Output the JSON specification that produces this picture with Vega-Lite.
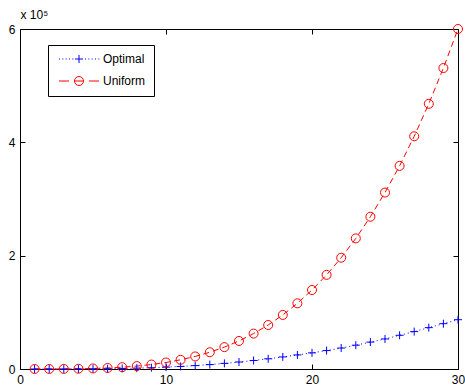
{
  "$schema": "https://vega.github.io/schema/vega-lite/v6.json",
  "width": 438,
  "height": 340,
  "autosize": {"type": "none"},
  "padding": {"left": 20, "top": 29, "right": 7, "bottom": 22},
  "background": "white",
  "config": {
    "font": "Liberation Sans",
    "view": {"stroke": "black", "strokeWidth": 1},
    "axis": {"grid": false, "domainColor": "black", "tickColor": "black", "labelColor": "black", "labelFontSize": 12, "titleColor": "black", "labelFont": "Liberation Sans", "titleFont": "Liberation Sans"}
  },
  "data": {"values": [
    {"x":1,"series":"Optimal","y":1},{"x":2,"series":"Optimal","y":10},{"x":3,"series":"Optimal","y":40},{"x":4,"series":"Optimal","y":120},{"x":5,"series":"Optimal","y":280},
    {"x":6,"series":"Optimal","y":550},{"x":7,"series":"Optimal","y":950},{"x":8,"series":"Optimal","y":1500},{"x":9,"series":"Optimal","y":2300},{"x":10,"series":"Optimal","y":3300},
    {"x":11,"series":"Optimal","y":4500},{"x":12,"series":"Optimal","y":6000},{"x":13,"series":"Optimal","y":7800},{"x":14,"series":"Optimal","y":9900},{"x":15,"series":"Optimal","y":12300},
    {"x":16,"series":"Optimal","y":15000},{"x":17,"series":"Optimal","y":18000},{"x":18,"series":"Optimal","y":21300},{"x":19,"series":"Optimal","y":24800},{"x":20,"series":"Optimal","y":28500},
    {"x":21,"series":"Optimal","y":32500},{"x":22,"series":"Optimal","y":37000},{"x":23,"series":"Optimal","y":42000},{"x":24,"series":"Optimal","y":47500},{"x":25,"series":"Optimal","y":53000},
    {"x":26,"series":"Optimal","y":59500},{"x":27,"series":"Optimal","y":66000},{"x":28,"series":"Optimal","y":73000},{"x":29,"series":"Optimal","y":80000},{"x":30,"series":"Optimal","y":87000},
    {"x":1,"series":"Uniform","y":3},{"x":2,"series":"Uniform","y":35},{"x":3,"series":"Uniform","y":151},{"x":4,"series":"Uniform","y":424},{"x":5,"series":"Uniform","y":948},
    {"x":6,"series":"Uniform","y":1824},{"x":7,"series":"Uniform","y":3185},{"x":8,"series":"Uniform","y":5149},{"x":9,"series":"Uniform","y":7867},{"x":10,"series":"Uniform","y":11496},
    {"x":11,"series":"Uniform","y":16224},{"x":12,"series":"Uniform","y":22158},{"x":13,"series":"Uniform","y":29574},{"x":14,"series":"Uniform","y":38592},{"x":15,"series":"Uniform","y":49494},
    {"x":16,"series":"Uniform","y":62460},{"x":17,"series":"Uniform","y":77640},{"x":18,"series":"Uniform","y":95400},{"x":19,"series":"Uniform","y":115900},{"x":20,"series":"Uniform","y":139400},
    {"x":21,"series":"Uniform","y":166100},{"x":22,"series":"Uniform","y":196400},{"x":23,"series":"Uniform","y":230500},{"x":24,"series":"Uniform","y":268700},{"x":25,"series":"Uniform","y":311400},
    {"x":26,"series":"Uniform","y":358400},{"x":27,"series":"Uniform","y":410600},{"x":28,"series":"Uniform","y":468000},{"x":29,"series":"Uniform","y":531100},{"x":30,"series":"Uniform","y":600000}
  ]},
  "resolve": {
    "axis": {"x": "independent", "y": "independent"},
    "scale": {"color": "independent", "shape": "independent", "size": "independent"},
    "legend": {"color": "independent", "shape": "independent", "size": "independent"}
  },
  "layer": [
    {
      "transform": [{"filter": "datum.series === 'Optimal'"}],
      "mark": {"type": "line", "strokeWidth": 1, "clip": false, "color": "#0000ff", "strokeDash": [1, 3]},
      "encoding": {
        "x": {"field": "x", "type": "quantitative", "scale": {"domain": [0, 30], "nice": false},
              "axis": {"values": [0, 10, 20, 30], "tickSize": -5, "labelPadding": 10, "title": null, "labelFlush": false}},
        "y": {"field": "y", "type": "quantitative", "scale": {"domain": [0, 600000], "nice": false},
              "axis": {"values": [0, 200000, 400000, 600000], "labelExpr": "format(datum.value/100000, 'd')", "tickSize": -5, "labelPadding": 10,
                       "title": "x 10⁵", "titleAngle": 0, "titleAlign": "left", "titleBaseline": "alphabetic", "titleX": 0, "titleY": -11, "titleFontWeight": "normal", "titleFontSize": 12}}
      }
    },
    {
      "transform": [{"filter": "datum.series === 'Uniform'"}],
      "mark": {"type": "line", "strokeWidth": 1, "clip": false, "color": "#ff0000", "strokeDash": [6, 4]},
      "encoding": {
        "x": {"field": "x", "type": "quantitative", "axis": null},
        "y": {"field": "y", "type": "quantitative", "axis": null}
      }
    },
    {
      "mark": {"type": "point", "filled": false, "strokeWidth": 1, "opacity": 1, "clip": false},
      "encoding": {
        "x": {"field": "x", "type": "quantitative", "axis": {"orient": "top", "values": [0, 10, 20, 30], "labels": false, "tickSize": -5, "title": null, "domain": false}},
        "y": {"field": "y", "type": "quantitative", "axis": {"orient": "right", "values": [0, 200000, 400000, 600000], "labels": false, "tickSize": -5, "title": null, "domain": false}},
        "shape": {"field": "series", "type": "nominal", "scale": {"domain": ["Optimal", "Uniform"], "range": ["M-1,0H1M0,-1V1", "circle"]}, "legend": null},
        "size": {"field": "series", "type": "nominal", "scale": {"domain": ["Optimal", "Uniform"], "range": [64, 81]}, "legend": null},
        "color": {"field": "series", "type": "nominal", "scale": {"domain": ["Optimal", "Uniform"], "range": ["#0000ff", "#ff0000"]}, "legend": null}
      }
    },
    {
      "transform": [{"filter": "false"}],
      "mark": {"type": "point", "filled": false, "strokeWidth": 1, "opacity": 1, "clip": false},
      "encoding": {
        "x": {"field": "x", "type": "quantitative", "axis": null},
        "y": {"field": "y", "type": "quantitative", "axis": null},
        "shape": {"field": "series", "type": "nominal", "title": null,
          "scale": {"domain": ["Optimal", "Uniform"], "range": [
            "M-4,0h0.2M-3.33,0h0.2M-2.67,0h0.2M-2,0h0.2M-1.33,0h0.2M1.2,0h0.2M1.87,0h0.2M2.53,0h0.2M3.2,0h0.2M3.87,0h0.2M-0.8,0H0.8M0,-0.8V0.8",
            "M-4,0H-2M-0.9,0H0.9M2,0H4M0.9,0A0.9,0.9 0 1,1 -0.9,0A0.9,0.9 0 1,1 0.9,0"]},
          "legend": {
            "orient": "none", "legendX": 28, "legendY": 16, "direction": "vertical",
            "strokeColor": "black", "fillColor": "white", "padding": 8,
            "symbolSize": 100, "symbolOffset": 17, "labelOffset": 18, "rowPadding": 9,
            "labelFontSize": 12, "labelColor": "black", "labelFont": "Liberation Sans",
            "symbolStrokeWidth": 1, "symbolFillColor": "transparent"
          }},
        "color": {"field": "series", "type": "nominal", "title": null, "scale": {"domain": ["Optimal", "Uniform"], "range": ["#0000ff", "#ff0000"]},
          "legend": {
            "orient": "none", "legendX": 28, "legendY": 16, "direction": "vertical",
            "strokeColor": "black", "fillColor": "white", "padding": 8,
            "symbolSize": 100, "symbolOffset": 17, "labelOffset": 18, "rowPadding": 9,
            "labelFontSize": 12, "labelColor": "black", "labelFont": "Liberation Sans",
            "symbolStrokeWidth": 1, "symbolFillColor": "transparent"
          }}
      }
    }
  ]
}
